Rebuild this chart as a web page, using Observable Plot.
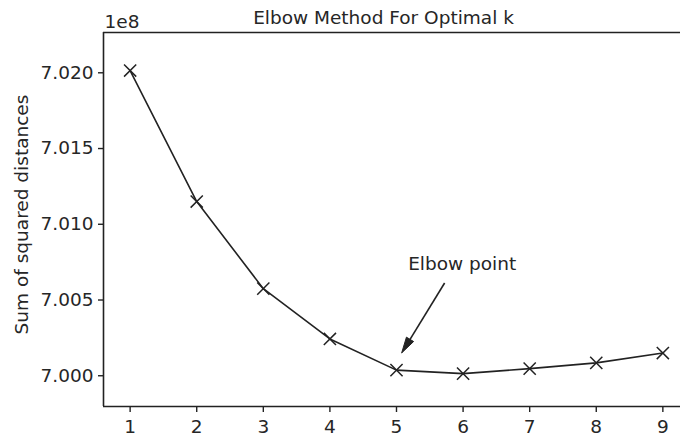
<!DOCTYPE html>
<html><head><meta charset="utf-8">
<script src="https://cdn.jsdelivr.net/npm/d3@7"></script>
<script src="https://cdn.jsdelivr.net/npm/@observablehq/plot@0.6"></script>
<style>body{margin:0;background:#fff}</style>
</head><body><div id="chart"></div>
<script>
const ks = [1, 2, 3, 4, 5, 6, 7, 8, 9];
const sse = [7.02015, 7.0115, 7.00575, 7.00243, 7.00037, 7.00014, 7.00047, 7.00085, 7.0015]; // ×1e8
const yTicks = [7.000, 7.005, 7.010, 7.015, 7.020];
const xDomain = [0.6, 9.265];
const yDomain = [6.99797, 7.02266];
const titleText = "Elbow Method For Optimal k";
const yLabel = "Sum of squared distances";
const offsetText = "1e8";
const noteText = "Elbow point";
const noteAt = [5.175, 7.00735];
const arrowFrom = [5.73, 7.00609];
const arrowTo = [5.085, 7.00147];

const ink = "#222";
const fs = 18.5;
const data = ks.map((k, i) => ({k, v: sse[i]}));

function arrowMark(index, scales) {
  const sx = scales.x(arrowFrom[0]), sy = scales.y(arrowFrom[1]);
  const tx = scales.x(arrowTo[0]), ty = scales.y(arrowTo[1]);
  const dx = tx - sx, dy = ty - sy, len = Math.hypot(dx, dy);
  const ux = dx / len, uy = dy / len, nx = -uy, ny = ux;
  const L = 16, w = 4.2;
  const bx = tx - ux * L, by = ty - uy * L;
  const g = d3.create("svg:g");
  g.append("line").attr("x1", sx).attr("y1", sy).attr("x2", bx + ux * 2).attr("y2", by + uy * 2)
    .attr("stroke", ink).attr("stroke-width", 1.6);
  g.append("path").attr("d", `M${tx},${ty}L${bx + nx * w},${by + ny * w}L${bx - nx * w},${by - ny * w}Z`)
    .attr("fill", ink).attr("stroke", ink).attr("stroke-width", 1).attr("stroke-linejoin", "miter");
  return g.node();
}

const chart = Plot.plot({
  width: 680, height: 439,
  marginLeft: 103, marginRight: 0, marginTop: 32, marginBottom: 33,
  style: {fontFamily: "DejaVu Sans", fontSize: fs + "px", color: "#262626", background: "#fff"},
  x: {domain: xDomain},
  y: {domain: yDomain},
  marks: [
    Plot.axisX({ticks: ks, tickFormat: d => String(d), tickSize: 6, tickPadding: 7, stroke: ink, strokeWidth: 1.4, fontSize: fs, label: null}),
    Plot.axisY({ticks: yTicks, tickFormat: d3.format(".3f"), tickSize: 5, tickPadding: 5, stroke: ink, strokeWidth: 1.4, fontSize: fs, label: null}),
    Plot.ruleX([xDomain[0]], {stroke: ink, strokeWidth: 1.6}),
    Plot.ruleY([yDomain[0], yDomain[1]], {stroke: ink, strokeWidth: 1.6}),
    Plot.line(data, {x: "k", y: "v", stroke: ink, strokeWidth: 1.6}),
    Plot.dot(data, {x: "k", y: "v", symbol: "times", r: 5.6, stroke: ink, strokeWidth: 1.5}),
    Plot.text([noteText], {x: noteAt[0], y: noteAt[1], text: d => d, textAnchor: "start", lineAnchor: "middle", fontSize: fs, fill: "#262626"}),
    arrowMark,
    Plot.text([titleText], {frameAnchor: "top", dx: -8.5, dy: -14.5, text: d => d, lineAnchor: "middle", fontSize: fs, fill: "#262626"}),
    Plot.text([offsetText], {frameAnchor: "top-left", dx: 1, dy: -10.5, text: d => d, textAnchor: "start", lineAnchor: "middle", fontSize: fs, fill: "#262626"}),
    Plot.text([yLabel], {frameAnchor: "left", dx: -81.5, dy: -5, rotate: -90, text: d => d, textAnchor: "middle", lineAnchor: "middle", fontSize: fs, fill: "#262626"})
  ]
});
document.getElementById("chart").appendChild(chart);
</script>
</body></html>
